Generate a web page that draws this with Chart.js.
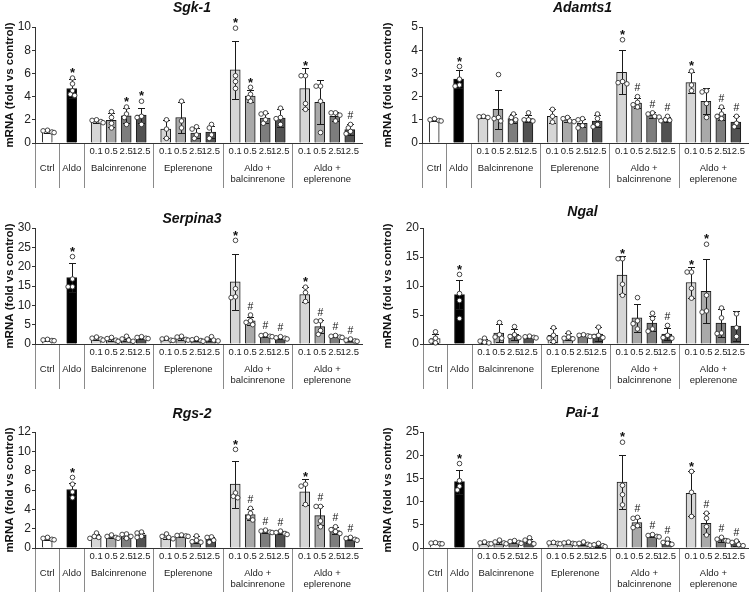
<!DOCTYPE html>
<html>
<head>
<meta charset="utf-8">
<script src="https://cdn.jsdelivr.net/npm/chart.js@4.4.1/dist/chart.umd.min.js"></script>
<style>
  body{margin:0;background:#fff;}
  #fig{position:relative;width:750px;height:592px;overflow:hidden;}
  #fig canvas{position:absolute;}
</style>
</head>
<body>
<div id="fig"></div>
<script>
// categories
const groupLabels = [['Ctrl'],['Aldo'],['Balcinrenone'],['Eplerenone'],['Aldo +','balcinrenone'],['Aldo +','eplerenone']];
const groupSizes = [1,1,4,4,4,4];
const doseLabels = ['0.1','0.5','2.5','12.5'];

// Sgk-1
const sgk1Mean = [1.0,4.7,1.85,1.95,2.35,2.4,1.2,2.2,0.85,0.95,6.3,4.05,2.15,2.15,4.7,3.5,2.3,1.15];
const sgk1Sd   = [0.12,0.8,0.15,0.6,0.65,0.65,0.8,1.3,0.45,0.55,2.5,0.55,0.45,0.75,1.8,1.9,0.4,0.45];
const sgk1Pts  = [[1.1,1.05,0.95,0.9],[5.6,5.1,4.5,4.2,4.1],[2.0,1.95,1.85,1.75],[2.7,2.2,1.7,1.3],[3.1,2.5,2.2,1.6],[3.6,2.3,2.2,1.6],
                  [2.0,1.2,0.4],[3.6,1.9,1.3],[1.4,1.2,0.7,0.4],[1.6,1.3,0.7,0.4],
                  [9.9,5.8,5.3,4.7],[4.8,4.2,3.9,3.6],[2.6,2.5,2.0,1.7],[3.0,2.2,2.1,1.6],
                  [5.8,5.8,3.4,2.9],[4.9,4.9,3.6,0.9],[2.6,2.6,2.4,1.9],[1.6,1.3,1.0,0.8]];
const sgk1Marks = ['','*','','','*','*','','','','','*','*','','','*','','','#'];

// Adamts1
const adamts1Mean = [1.0,2.75,1.12,1.45,1.05,1.05,1.15,1.0,0.85,0.95,3.05,1.72,1.2,1.02,2.6,1.8,1.25,0.9];
const adamts1Sd   = [0.05,0.4,0.05,0.85,0.2,0.15,0.3,0.1,0.17,0.25,0.95,0.23,0.12,0.11,0.45,0.55,0.25,0.25];
const adamts1Pts  = [[1.05,1.0,0.97,0.95],[3.3,2.75,2.5,2.45],[1.15,1.13,1.1],[2.95,1.1,1.05,0.95],[1.25,1.1,1.0,0.9],[1.3,1.0,1.0,0.95],
                     [1.45,1.15,0.9],[1.1,1.05,0.95,0.92],[1.05,1.0,0.75,0.65],[1.25,1.05,0.8,0.7],
                     [4.45,2.65,2.6,2.55],[2.0,1.75,1.65,1.55],[1.3,1.25,1.15,1.12],[1.15,1.0,0.98,0.96],
                     [3.1,2.5,2.25],[2.25,2.2,1.7,1.1],[1.55,1.25,1.15,1.05],[1.15,0.85,0.7]];
const adamts1Marks = ['','*','','','','','','','','','*','#','#','#','*','','#','#'];

// Serpina3
const serpina3Mean = [1.0,17.2,1.4,1.2,1.2,1.6,1.2,1.5,1.0,1.2,16.1,6.0,2.1,1.55,12.8,4.5,1.9,0.95];
const serpina3Sd   = [0.15,3.8,0.3,0.4,0.5,0.25,0.25,0.35,0.25,0.4,7.3,1.0,0.25,0.2,2.0,1.6,0.2,0.25];
const serpina3Pts  = [[1.2,1.05,0.9,0.85],[22.6,16.8,14.8,14.8],[1.8,1.5,1.3,1.0],[1.7,1.4,1.0,0.7],[2.0,1.3,1.0,0.7],[1.9,1.7,1.5,1.4],
                      [1.5,1.3,1.0,0.9],[2.0,1.8,1.2,1.0],[1.4,1.1,0.9,0.7],[1.9,1.3,1.0,0.8],
                      [26.8,14.3,12.2,12.0],[7.5,6.0,5.6,5.0],[2.4,2.2,2.0,1.9],[1.9,1.6,1.5,1.3],
                      [14.7,13.3,11.0],[6.0,5.9,3.5,2.5],[2.2,2.0,1.8,1.7],[1.3,1.0,0.8,0.7]];
const serpina3Marks = ['','*','','','','','','','','','*','#','#','#','*','#','#','#'];

// Ngal
const ngalMean = [0.95,8.5,0.55,1.9,1.65,1.2,1.5,1.3,1.45,1.7,11.9,4.5,3.6,1.7,10.6,9.1,3.6,3.1];
const ngalSd   = [0.85,2.5,0.35,1.6,1.0,0.15,1.2,0.6,0.15,1.2,3.3,2.4,1.3,1.0,2.6,5.5,2.4,2.6];
const ngalPts  = [[2.1,1.0,0.5,0.2],[12.0,8.7,7.5,4.4],[1.0,0.5,0.3,0.2],[3.7,1.6,1.2,1.0],[3.0,1.6,1.3,1.1],[1.35,1.25,1.15,1.05],
                  [2.8,1.5,1.0,0.4],[1.9,1.2,1.0,0.9],[1.6,1.5,1.4,1.3],[2.9,1.5,1.3,1.1],
                  [14.7,14.7,10.3,8.4],[8.0,4.0,3.5,2.6],[5.3,4.4,2.6,2.2],[3.2,1.5,1.1,1.0],
                  [12.4,12.4,9.6,7.9],[17.2,8.4,5.7,5.5],[6.2,4.5,1.9,1.8],[5.2,2.8,1.3]];
const ngalMarks = ['','*','','','','','','','','','*','','','#','*','*','',''];

// Rgs-2
const rgs2Mean = [0.95,6.05,1.2,1.15,1.25,1.35,1.15,1.25,0.85,0.9,6.6,3.45,1.7,1.6,5.8,3.35,1.8,0.95];
const rgs2Sd   = [0.1,0.65,0.2,0.15,0.2,0.25,0.2,0.1,0.35,0.25,2.45,0.55,0.15,0.15,1.3,1.0,0.4,0.15];
const rgs2Pts  = [[1.1,1.0,0.9,0.85],[7.3,6.6,5.8,5.2],[1.55,1.2,1.1,1.0],[1.35,1.2,1.1,1.0],[1.45,1.4,1.2,1.0],[1.65,1.55,1.2,1.1],
                  [1.45,1.2,1.1,0.95],[1.35,1.3,1.25,1.2],[1.25,0.8,0.65,0.6],[1.15,1.1,0.8,0.6],
                  [10.2,5.7,5.35,5.2],[4.1,3.6,3.2,2.9],[1.85,1.75,1.65,1.6],[1.75,1.6,1.5,1.4],
                  [6.6,6.4,4.5],[4.3,4.3,2.8,2.2],[2.2,1.9,1.7,1.5],[1.1,1.0,0.9,0.8]];
const rgs2Marks = ['','*','','','','','','','','','*','#','#','#','*','#','#','#'];

// Pai-1
const pai1Mean = [1.0,14.3,1.05,1.25,1.3,1.5,1.05,1.05,0.9,0.6,14.2,5.5,2.6,1.2,11.8,5.3,1.8,0.95];
const pai1Sd   = [0.12,2.6,0.15,0.3,0.25,0.4,0.1,0.15,0.3,0.3,5.9,1.0,0.2,0.4,4.9,2.3,0.4,0.5];
const pai1Pts  = [[1.15,1.05,0.95,0.9],[18.2,14.5,13.3,12.5],[1.3,1.1,0.9,0.9],[1.7,1.3,1.1,0.9],[1.6,1.4,1.2,1.0],[2.2,1.7,1.3,0.9],
                  [1.2,1.1,1.0,0.9],[1.25,1.1,1.0,0.9],[1.3,1.0,0.8,0.6],[1.0,0.7,0.5,0.3],
                  [22.8,13.5,11.5,9.3],[6.6,6.4,4.8,4.4],[2.9,2.7,2.5,2.4],[1.9,1.2,1.0,0.8],
                  [16.5,12.0,6.8],[7.5,6.4,4.6,2.8],[2.3,1.9,1.6,1.5],[1.5,1.2,0.7,0.5]];
const pai1Marks = ['','*','','','','','','','','','*','#','#','#','*','#','#','#'];

const FONT = "'Liberation Sans', Arial, sans-serif";
const doseColors = ['#d6d6d6','#a9a9a9','#7d7d7d','#525252'];
const GAP = 1.63; // spacing between groups, in bar steps
const R = 2.3;

// x layout built from the group structure
const xs = [], bounds = [], centers = [];
(function(){
  let last = -GAP/2;
  groupSizes.forEach(n=>{
    const first = last + GAP;
    bounds.push(last + GAP/2);
    for(let i=0;i<n;i++) xs.push(first+i);
    centers.push(first + (n-1)/2);
    last = first + n - 1;
  });
  bounds.push(last + GAP/2);
})();
const xMax = bounds[bounds.length-1];
const tickText = [], barColor = [];
groupSizes.forEach((n,g)=>{
  for(let i=0;i<n;i++){
    tickText.push(n>1 ? doseLabels[i] : '');
    barColor.push(g===0 ? '#ffffff' : g===1 ? '#000000' : doseColors[i]);
  }
});

const panels = [
  {title:'Sgk-1',    mean:sgk1Mean,     sd:sgk1Sd,     pts:sgk1Pts,     marks:sgk1Marks,     yMax:10, yStep:2, left:0,   top:0,   h:190, axisW:35, padR:13, titleX:192,   titleY:8.5,  yTitlePad:3},
  {title:'Adamts1',  mean:adamts1Mean,  sd:adamts1Sd,  pts:adamts1Pts,  marks:adamts1Marks,  yMax:5,  yStep:1, left:375, top:0,   h:190, axisW:47, padR:2,  titleX:207.5, titleY:8.5,  yTitlePad:6},
  {title:'Serpina3', mean:serpina3Mean, sd:serpina3Sd, pts:serpina3Pts, marks:serpina3Marks, yMax:30, yStep:5, left:0,   top:201, h:191, axisW:35, padR:13, titleX:192,   titleY:18.5, yTitlePad:3},
  {title:'Ngal',     mean:ngalMean,     sd:ngalSd,     pts:ngalPts,     marks:ngalMarks,     yMax:20, yStep:5, left:375, top:201, h:191, axisW:48, padR:2,  titleX:207.5, titleY:11.5, yTitlePad:6},
  {title:'Rgs-2',    mean:rgs2Mean,     sd:rgs2Sd,     pts:rgs2Pts,     marks:rgs2Marks,     yMax:12, yStep:2, left:0,   top:405, h:187, axisW:35, padR:13, titleX:192,   titleY:9,    yTitlePad:3},
  {title:'Pai-1',    mean:pai1Mean,     sd:pai1Sd,     pts:pai1Pts,     marks:pai1Marks,     yMax:25, yStep:5, left:375, top:405, h:187, axisW:48, padR:2,  titleX:207.5, titleY:8.5,  yTitlePad:6},
];

const OFFS = [0,-2.2,2.2,-4.4,4.4,-6.6,6.6];

function decor(p){
  return {
    id:'decor',
    afterDatasetsDraw(chart){
      const ctx = chart.ctx, xS = chart.scales.x, yS = chart.scales.y;
      ctx.save();
      p.mean.forEach((m,i)=>{
        const cx = Math.round(xS.getPixelForValue(xs[i])) + 0.5;
        const yT = Math.round(yS.getPixelForValue(m + p.sd[i])) + 0.5;
        const yB = Math.round(yS.getPixelForValue(Math.max(m - p.sd[i], 0))) + 0.5;
        // error bar
        ctx.strokeStyle = '#1a1a1a'; ctx.lineWidth = 1;
        ctx.beginPath();
        ctx.moveTo(cx, yT); ctx.lineTo(cx, yB);
        ctx.moveTo(cx-3.5, yT); ctx.lineTo(cx+3.5, yT);
        ctx.moveTo(cx-3.5, yB); ctx.lineTo(cx+3.5, yB);
        ctx.stroke();
        // points (simple beeswarm)
        const ys = p.pts[i].map(v=>yS.getPixelForValue(v)).sort((a,b)=>a-b);
        const placed = [];
        ys.forEach(py=>{
          let off = OFFS[OFFS.length-1];
          for(const o of OFFS){
            if(placed.every(q=>Math.hypot(q.x-o, q.y-py) >= 1.75*R)){ off = o; break; }
          }
          placed.push({x:off, y:py});
        });
        ctx.fillStyle = '#ffffff'; ctx.strokeStyle = '#333333'; ctx.lineWidth = 0.9;
        placed.forEach(q=>{
          ctx.beginPath(); ctx.arc(cx+q.x, q.y, R, 0, Math.PI*2); ctx.fill(); ctx.stroke();
        });
        // significance mark
        const mk = p.marks[i];
        if(mk){
          const top = Math.min(yT, ys[0] - R);
          ctx.fillStyle = '#111'; ctx.textAlign = 'center'; ctx.textBaseline = 'alphabetic';
          if(mk === '*'){ ctx.font = 'bold 13px ' + FONT; ctx.fillText('*', cx, top + 1.5); }
          else { ctx.font = '10.5px ' + FONT; ctx.fillText('#', cx, top - 3); }
        }
      });
      ctx.restore();
    },
    afterDraw(chart){
      const ctx = chart.ctx, xS = chart.scales.x, a = chart.chartArea;
      ctx.save();
      // title
      ctx.fillStyle = '#111'; ctx.font = 'italic bold 14px ' + FONT;
      ctx.textAlign = 'center'; ctx.textBaseline = 'middle';
      ctx.fillText(p.title, p.titleX, p.titleY);
      // category table lines
      ctx.strokeStyle = '#8a8a8a'; ctx.lineWidth = 1;
      ctx.beginPath();
      bounds.slice(0,-1).forEach(b=>{
        const x = Math.round(xS.getPixelForValue(b)) + 0.5;
        ctx.moveTo(x, a.bottom + 1); ctx.lineTo(x, a.bottom + 45);
      });
      ctx.stroke();
      // group labels
      ctx.fillStyle = '#222'; ctx.font = '9.5px ' + FONT;
      groupLabels.forEach((lines,g)=>{
        const cx = xS.getPixelForValue(centers[g]);
        lines.forEach((t,k)=> ctx.fillText(t, cx, a.bottom + 25.5 + k*11));
      });
      ctx.restore();
    }
  };
}

const fig = document.getElementById('fig');
panels.forEach(p=>{
  const cv = document.createElement('canvas');
  cv.width = 375; cv.height = p.h;
  cv.style.left = p.left + 'px'; cv.style.top = p.top + 'px';
  cv.style.width = '375px'; cv.style.height = p.h + 'px';
  fig.appendChild(cv);
  new Chart(cv, {
    type: 'bar',
    data: {
      datasets: [{
        data: p.mean.map((m,i)=>({x: xs[i], y: m})),
        backgroundColor: barColor,
        borderColor: '#1a1a1a',
        borderWidth: 1,
        barThickness: 10
      }]
    },
    options: {
      responsive: false,
      animation: false,
      devicePixelRatio: 1,
      layout: {padding: {top: 27, right: p.padR, bottom: 0, left: 0}},
      plugins: {legend: {display: false}, tooltip: {enabled: false}},
      scales: {
        x: {
          type: 'linear', min: 0, max: xMax, offset: false,
          grid: {display: false, drawTicks: false, offset: false},
          border: {display: true, color: '#333', width: 1},
          afterBuildTicks: s => { s.ticks = xs.map(v => ({value: v})); },
          afterFit: s => { s.height = p.h - 143; },
          ticks: {autoSkip: false, maxRotation: 0, minRotation: 0, padding: 3, color: '#222',
                  font: {family: FONT, size: 9.5}, callback: (v, i) => tickText[i]}
        },
        y: {
          min: 0, max: p.yMax,
          afterFit: s => { s.width = p.axisW; },
          ticks: {stepSize: p.yStep, padding: 1, color: '#222', font: {family: FONT, size: 12}},
          grid: {drawOnChartArea: false, drawTicks: true, tickLength: 3, color: '#333'},
          border: {display: true, color: '#333', width: 1},
          title: {display: true, text: 'mRNA (fold vs control)', color: '#111',
                  font: {family: FONT, size: 11.5, weight: 'bold'}, padding: {top: p.yTitlePad, bottom: 0}}
        }
      }
    },
    plugins: [decor(p)]
  });
});
</script>
</body>
</html>
